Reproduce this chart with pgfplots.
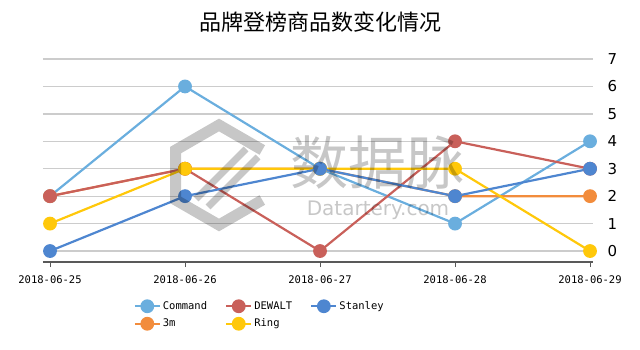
\documentclass[border=0pt]{standalone}
\usepackage{pgfplots}
\pgfplotsset{compat=1.18}
\usepackage{fontspec}
\setmainfont{DejaVu Sans}
\newfontfamily\cjk{Noto Sans CJK SC}
\newfontfamily\mono{DejaVu Sans Mono}
\definecolor{cCommand}{RGB}{106,174,222}
\definecolor{cDewalt}{RGB}{201,96,90}
\definecolor{cStanley}{RGB}{78,134,208}
\definecolor{cThreeM}{RGB}{242,140,60}
\definecolor{cRing}{RGB}{255,200,10}
\begin{document}
\begin{tikzpicture}[x=1pt,y=1pt]
\useasboundingbox (0,0) rectangle (640,349);
\node[font=\cjk\fontsize{22}{24}\selectfont] at (320,327) {品牌登榜商品数变化情况};
\begin{axis}[
  at={(43pt,87pt)}, anchor=south west, scale only axis,
  width=550pt, height=203pt,
  xmin=-0.052, xmax=4.022, ymin=-0.4, ymax=7,
  axis x line*=bottom, axis y line*=right,
  y axis line style={draw=none},
  x axis line style={draw=black!65, line width=1.5pt, -},
  xtick={0,1,2,3,4},
  xticklabels={2018-06-25,2018-06-26,2018-06-27,2018-06-28,2018-06-29},
  xticklabel style={font=\mono\fontsize{10.5}{12}\selectfont, yshift=-5pt},
  xtick style={draw=black!65, line width=1pt},
  tick align=outside, major tick length=5pt,
  ytick={0,1,...,7},
  ytick style={draw=none},
  yticklabel style={font=\fontsize{15}{16}\selectfont, xshift=6pt},
  /pgf/number format/assume math mode=true,
  ymajorgrids, grid style={draw=black!20, line width=1.3pt},
  legend columns=3,
  legend style={at={(0.394,-0.261)}, anchor=center, draw=none, fill=none,
    font=\mono\fontsize{10.5}{12}\selectfont,
    /tikz/every even column/.append style={column sep=16pt},
    /tikz/every odd column/.append style={column sep=0pt},
    row sep=4pt},
  legend cell align=left,
  legend image code/.code={\draw[mark repeat=2,mark phase=2] plot coordinates {(0pt,0pt) (12.5pt,0pt) (25pt,0pt)};},
  every axis plot/.append style={line width=2.2pt, mark=*, mark size=5.8pt, mark options={solid}},
]
\addplot[cCommand, forget plot] coordinates {(0,2) (1,6) (2,3) (3,1) (4,4)};
\addplot[cThreeM, forget plot] coordinates {(0,2) (1,3) (2,3) (3,2) (4,2)};
\addplot[cDewalt, forget plot] coordinates {(0,2) (1,3) (2,0) (3,4) (4,3)};
\addplot[cRing, forget plot] coordinates {(0,1) (1,3) (2,3) (3,3) (4,0)};
\addplot[cStanley, forget plot] coordinates {(0,0) (1,2) (2,3) (3,2) (4,3)};
\addlegendimage{cCommand, line width=2.2pt, mark=*, mark size=5.8pt}
\addlegendentry{Command}
\addlegendimage{cDewalt, line width=2.2pt, mark=*, mark size=5.8pt}
\addlegendentry{DEWALT}
\addlegendimage{cStanley, line width=2.2pt, mark=*, mark size=5.8pt}
\addlegendentry{Stanley}
\addlegendimage{cThreeM, line width=2.2pt, mark=*, mark size=5.8pt}
\addlegendentry{3m}
\addlegendimage{cRing, line width=2.2pt, mark=*, mark size=5.8pt}
\addlegendentry{Ring}
\end{axis}
% watermark (drawn over the plot, semi-transparent)
\begin{scope}[opacity=0.22]
\node[font=\cjk\fontsize{58}{60}\selectfont, text=black] at (377,186) {数据脉};
\node[font=\fontsize{20}{22}\selectfont, text=black] at (378,139) {Datartery.com};
\begin{scope}[shift={(219,174)}]
\draw[black, line width=11pt, line join=miter]
  (30:50) -- (90:50) -- (150:50) -- (210:50) -- (270:50) -- (330:50);
\draw[black, line width=7pt] (-23,-24) -- (27,26);
\draw[black, line width=7pt] (-11,-32) -- (39,18);
\end{scope}
\end{scope}
\end{tikzpicture}
\end{document}
